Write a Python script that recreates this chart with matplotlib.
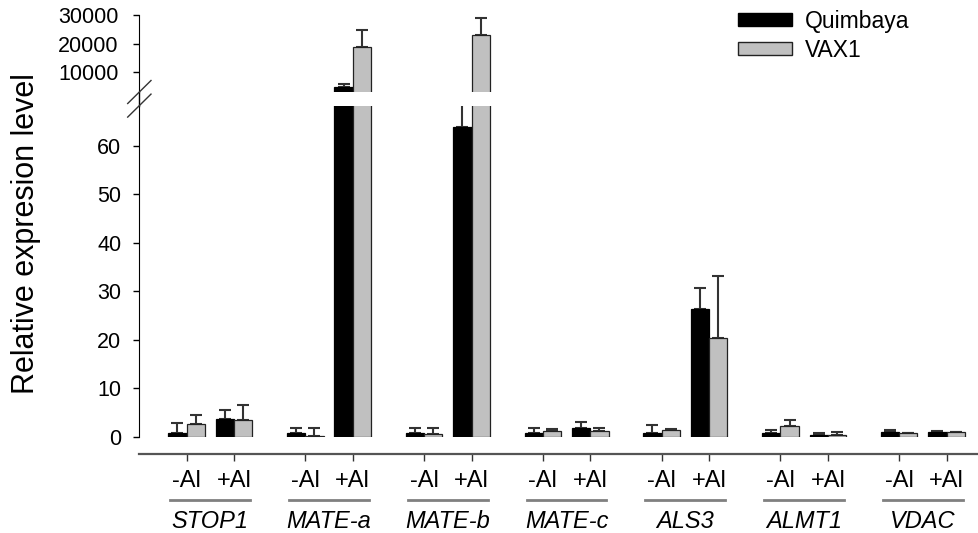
import numpy as np
import matplotlib
matplotlib.use('Agg')
import matplotlib.pyplot as plt
from matplotlib.patches import Patch
from matplotlib.lines import Line2D
from matplotlib.transforms import blended_transform_factory

plt.rcParams['font.family'] = ['Liberation Sans', 'DejaVu Sans']

# genes and treatments
genes = ['STOP1', 'MATE-a', 'MATE-b', 'MATE-c', 'ALS3', 'ALMT1', 'VDAC']
treatments = ['-Al', '+Al']

# relative expression, ordered gene by gene (-Al, +Al)
quimbaya = [0.9, 3.8, 0.9, 4900, 0.9, 63.9, 0.9, 1.9, 0.9, 26.3, 0.9, 0.4, 1.0, 1.1]
quimbaya_err = [2.0, 1.7, 0.9, 1050, 0.9, 40, 1.0, 1.1, 1.6, 4.5, 0.5, 0.35, 0.4, 0.1]
vax1 = [2.6, 3.6, 0.3, 19000, 0.55, 23100, 1.2, 1.3, 1.4, 20.3, 2.2, 0.5, 0.75, 1.0]
vax1_err = [1.9, 2.9, 1.6, 5850, 1.35, 5800, 0.4, 0.5, 0.3, 12.8, 1.3, 0.5, 0.05, 0.1]

W, H = 979, 533
fig = plt.figure(figsize=(W / 100, H / 100), dpi=100)

def frac(x0, y0, x1, y1):
    # pixel box (top-left origin) -> figure fraction rect
    return [x0 / W, 1 - y1 / H, (x1 - x0) / W, (y1 - y0) / H]

ax_top = fig.add_axes(frac(139, 15, 978, 92))
ax_bot = fig.add_axes(frac(139, 106, 978, 437))

pos = np.array([2.5 * g + k for g in range(len(genes)) for k in range(2)])
bw = 0.385
black = '#000000'
grey = '#c0c0c0'

for ax in (ax_top, ax_bot):
    ax.bar(pos - bw / 2, quimbaya, bw, color=black, edgecolor='black', linewidth=0.9, zorder=2)
    ax.bar(pos + bw / 2, vax1, bw, color=grey, edgecolor='#222222', linewidth=0.9, zorder=2)
    ax.errorbar(pos - bw / 2, quimbaya, yerr=[np.zeros(len(pos)), quimbaya_err], fmt='none',
                ecolor='#333333', elinewidth=1.5, capsize=4.5, capthick=1.5, zorder=1)
    ax.errorbar(pos + bw / 2, vax1, yerr=[np.zeros(len(pos)), vax1_err], fmt='none',
                ecolor='#333333', elinewidth=1.5, capsize=4.5, capthick=1.5, zorder=1)
    ax.set_xlim(-1.0, 16.66)
    for s in ('top', 'right'):
        ax.spines[s].set_visible(False)
    ax.tick_params(axis='y', labelsize=15.5, length=4.3, width=1, direction='out', pad=8.5)

# upper part of the broken axis
ax_top.set_ylim(3124, 30000)
ax_top.set_yticks([10000, 20000, 30000])
ax_top.spines['bottom'].set_visible(False)
ax_top.set_xticks([])
ax_top.tick_params(axis='y', pad=10.5)

# lower part
ax_bot.set_ylim(0, 68.2)
ax_bot.set_yticks(np.arange(0, 61, 10))
ax_bot.spines['left'].set_bounds(0, 68.2)
ax_bot.spines['bottom'].set_position(('outward', 12))
ax_bot.spines['bottom'].set_color('#555555')
ax_bot.spines['bottom'].set_linewidth(1.6)
ax_bot.set_xticks(pos)
ax_bot.set_xticklabels(treatments * len(genes))
ax_bot.tick_params(axis='x', labelsize=17, length=5, width=1, color='#333333', pad=6.5)

# gene labels with a grey line under each pair
tr = blended_transform_factory(ax_bot.transData, ax_bot.transAxes)
for g, gene in enumerate(genes):
    x0, x1 = 2.5 * g, 2.5 * g + 1
    ax_bot.add_line(Line2D([x0 - 0.34, x1 + 0.34], [-0.19, -0.19], transform=tr,
                           color='#808080', lw=2, clip_on=False))
    ax_bot.text((x0 + x1) / 2, -0.254, gene, transform=tr, ha='center', va='center',
                fontsize=17, style='italic')

# axis break: join the spines and draw the slashes
fig.add_artist(Line2D([139 / W, 139 / W], [1 - 92 / H, 1 - 106 / H], color='black', lw=1))
for yc in (92, 105.6):
    fig.add_artist(Line2D([127.7 / W, 151 / W], [1 - (yc + 11.5) / H, 1 - (yc - 11.5) / H],
                          color='#333333', lw=1))

ax_bot.set_ylabel('Relative expresion level', fontsize=22)
ax_bot.yaxis.set_label_coords(-0.117, 0.616)

handles = [Patch(facecolor=black, edgecolor='black'),
           Patch(facecolor=grey, edgecolor='#222222')]
fig.legend(handles, ['Quimbaya', 'VAX1'], loc='upper left',
           bbox_to_anchor=(738 / W, 1 - 10 / H), frameon=False, fontsize=16.5,
           handlelength=2.35, handleheight=0.5, handletextpad=0.55,
           labelspacing=0.25, borderpad=0, borderaxespad=0)

fig.savefig('out.png', dpi=100)
